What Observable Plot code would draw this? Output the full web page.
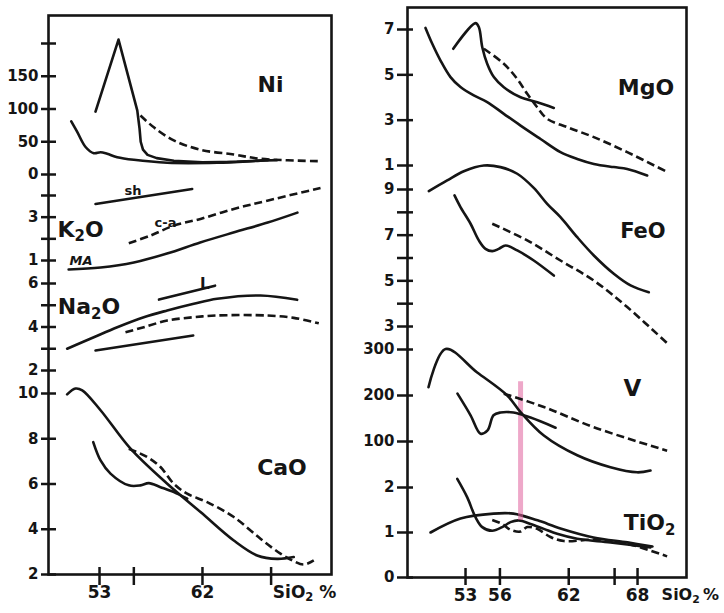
<!DOCTYPE html>
<html><head><meta charset="utf-8">
<script src="https://cdn.jsdelivr.net/npm/d3@7"></script>
<script src="https://cdn.jsdelivr.net/npm/@observablehq/plot@0.6"></script>
<style>
body{margin:0;background:#fff;}
#chart{position:relative;width:724px;height:613px;overflow:hidden;background:#fff;}
#chart svg{position:absolute;top:0;}
</style></head><body><div id="chart"></div>
<script>
// ---------- DATA (SiO2 %, value) ----------
// Left panel
const niTicks = [0, 50, 100, 150, 200];
const niTickLabels = [0, 50, 100, 150];
const niPeak = [[52.65,96],[54.66,206],[56.3,98],[56.5,70],[56.6,50],[56.8,38],[57.2,30],[58,25],[59.5,21],[62,18.5],[65,19.5],[67.7,22]];
const niLow = [[50.53,81],[51.05,65],[51.78,42],[52.5,32.5],[53.09,34],[53.67,31.6],[54.55,26.4],[56,22.4],[58.92,18],[63.29,18],[67.07,21],[68.5,22]];
const niDash = [[56.58,90],[57.75,72],[59.49,52],[61.83,37.7],[64.74,30.5],[67.07,24],[72.32,20.3]];

const k2oTicks = [1, 2, 3, 4];
const k2oTickLabels = [1, 3];
const k2oSh = [[52.65,3.61],[61.1,4.30]];
const k2oCa = [[55.56,1.80],[57.46,2.15],[59.49,2.61],[61.83,2.92],[64.74,3.38],[67.66,3.76],[72.32,4.35]];
const k2oMa = [[50.3,0.585],[53.1,0.68],[56,0.91],[58.9,1.32],[61.8,1.83],[64.7,2.29],[67.7,2.75],[70.3,3.21]];

const na2oTicks = [2, 3, 4, 5, 6];
const na2oTickLabels = [2, 4, 6];
const na2oL = [[58.2,5.26],[63.1,5.9]];
const na2oUp = [[50.17,3.0],[52.5,3.53],[54.55,3.99],[56.87,4.45],[58.92,4.76],[61.24,5.07],[63.28,5.30],[67.07,5.45],[70.28,5.25]];
const na2oDash = [[55.27,3.76],[56.87,3.99],[58.92,4.30],[61.24,4.45],[63.28,4.53],[67.66,4.53],[69.98,4.42],[72.17,4.17]];
const na2oLow = [[52.65,2.92],[61.19,3.61]];

const caoTicks = [2, 4, 6, 8, 10];
const caoTickLabels = [2, 4, 6, 8, 10];
const caoMain = [[50.17,9.96],[50.9,10.22],[51.49,10.14],[53.09,9.26],[55.71,7.56],[58.92,6.01],[61.83,4.76],[64.74,3.50],[66.78,2.84],[68.53,2.69],[69.98,2.77]];
const caoLow = [[52.45,7.85],[53.09,7.04],[53.96,6.46],[55.56,5.94],[56.58,5.94],[57.31,6.04],[58.33,5.86],[59.5,5.64],[60.67,5.35]];
const caoDash = [[55.56,7.56],[57.17,7.19],[58.33,6.75],[59.49,6.01],[60.66,5.57],[62.41,5.20],[64.74,4.54],[67.07,3.58],[68.82,2.92],[69.98,2.59],[70.86,2.44],[71.73,2.62]];

const leftXTicks = [53, 56, 62, 68];
const leftXTickLabels = [53, 62];

// Right panel
const mgoTicks = [1, 3, 5, 7];
const mgoTickLabels = [1, 3, 5, 7];
const mgoMain = [[49.51,7.07],[50.10,6.37],[50.82,5.63],[51.69,4.90],[52.56,4.46],[53.72,4.09],[54.89,3.80],[56.34,3.28],[57.80,2.76],[59.54,2.17],[61.28,1.59],[62.74,1.29],[64.19,1.07],[65.93,0.93],[67.10,0.85],[68.84,0.56]];
const mgoPeak = [[51.93,6.15],[53.87,7.28],[54.16,7.11],[54.46,6.22],[54.89,5.49],[55.47,4.90],[56.34,4.45],[57.80,4.01],[59.25,3.79],[60.70,3.54]];
const mgoDash = [[54.6,6.15],[56.34,5.49],[57.51,4.82],[58.38,4.16],[59.25,3.57],[60.12,3.06],[61.87,2.69],[64.19,2.25],[67.1,1.59],[70.44,0.75]];

const feoTicks = [3, 4, 5, 6, 7, 8, 9];
const feoTickLabels = [3, 5, 7, 9];
const feoUp = [[49.8,8.93],[51.4,9.40],[52.85,9.80],[54.6,10.05],[56.05,9.98],[57.51,9.69],[58.95,9.07],[60.12,8.37],[61.28,7.79],[62.74,6.91],[64.19,6.11],[65.93,5.31],[67.39,4.80],[68.98,4.50]];
const feoLow = [[52.04,8.74],[52.56,8.23],[53.44,7.50],[54.16,6.77],[54.74,6.40],[55.33,6.30],[55.9,6.40],[56.49,6.55],[57.51,6.33],[58.95,5.89],[60.7,5.23]];
const feoDash = [[55.33,7.50],[58.38,6.77],[61.28,5.89],[64.19,5.01],[67.1,3.85],[70.58,2.27]];

const vTicks = [100, 200, 300];
const vTickLabels = [100, 200, 300];
const vMain = [[49.77,218],[51.26,301],[54.02,250],[56.64,200],[57.8,164],[59.83,113],[62.74,70],[65.64,44],[67.97,33],[69.13,37]];
const vDip = [[52.3,204],[53.44,157],[54.31,117],[54.92,124],[55.44,157],[56.05,163],[57.18,163],[58.67,152],[60.85,130]];
const vDash = [[56.34,204],[59.83,175],[64.19,131],[70.58,80]];
const pinkMark = [{si: 57.8, top: 230, bottom: -72}];

const tio2Ticks = [0, 1, 2];
const tio2TickLabels = [0, 1, 2];
const tio2Arc = [[49.95,1.0],[52.56,1.31],[55.44,1.42],[57.18,1.42],[59.28,1.27],[61.28,1.09],[64.16,0.89],[67.12,0.78],[69.3,0.69]];
const tio2Loop = [[52.28,2.19],[53.15,1.78],[53.87,1.34],[54.46,1.12],[55.33,1.04],[56.2,1.12],[56.92,1.23],[57.65,1.27],[58.67,1.19],[59.83,1.08],[60.99,0.97],[62.74,0.86],[65.64,0.78],[69.13,0.67]];
const tio2Dash = [[55.33,1.28],[56.2,1.19],[56.92,1.06],[57.8,1.02],[58.38,1.12],[59.25,1.08],[60.41,0.9],[61.57,0.81],[64.19,0.84],[67.1,0.75],[70.58,0.47]];

const rightXTicks = [53, 56, 62, 66, 68];
const rightXTickLabels = [53, 56, 62, 68];

// Labels (text + anchor in data units)
const niNames = [{text: "Ni", si: 67.95, val: 136}];
const k2oNames = [{text: "K₂O", si: 51.34, val: 2.43}];
const k2oTags = [{text: "sh", si: 55.93, val: 4.2}, {text: "c-a", si: 58.77, val: 2.73}];
const k2oItalicTags = [{text: "MA", si: 51.38, val: 0.98}];
const na2oNames = [{text: "Na₂O", si: 52.08, val: 4.92}];
const na2oTags = [{text: "L", si: 62.2, val: 5.97}];
const caoNames = [{text: "CaO", si: 68.95, val: 6.71}];
const mgoNames = [{text: "MgO", si: 68.74, val: 4.44}];
const feoNames = [{text: "FeO", si: 68.47, val: 7.16}];
const vNames = [{text: "V", si: 67.56, val: 215}];
const tio2Names = [{text: "TiO₂", si: 69.04, val: 1.21}];
const leftAxisTitle = [{text: "SiO₂ %", si: 68.15}];
const rightAxisTitle = [{text: "SiO₂\u2009%", si: 70.1}];

// ---------- LAYOUT ----------
const LEFT = {left: 0, width: 345, mL: 48, mR: 14, mT: 15, mB: 39, xDomain: [48.54, 73.28],
  yTick: {size: 15, dx: 8, pad: 3}, xTick: {size: 18, dy: -7, pad: 0}, titleSize: 17,
  xTicks: leftXTicks, xLabels: leftXTickLabels, title: leftAxisTitle};
const RIGHT = {left: 360, width: 364, mL: 47, mR: 38, mT: 7, mB: 36, xDomain: [47.94, 72.27],
  yTick: {size: 16, dx: 6, pad: 3}, xTick: {size: 17, dy: -9, pad: 3}, titleSize: 16,
  xTicks: rightXTicks, xLabels: rightXTickLabels, title: rightAxisTitle};

const INK = "#151515";
function lines(list) {
  return list.map(s => Plot.line(s.pts, {
    x: d => d[0], y: d => d[1], stroke: INK, strokeWidth: 2.6,
    strokeLinecap: "round", strokeLinejoin: "round",
    curve: s.curve || "catmull-rom",
    ...(s.dashed ? {strokeDasharray: "8,4", strokeLinecap: "butt"} : {})
  }));
}
function names(arr, size, extra = {}) {
  return Plot.text(arr, {x: "si", y: "val", text: "text", fontSize: size, fontWeight: "bold", fill: INK, ...extra});
}

const chart = document.getElementById("chart");
const NS = "http://www.w3.org/2000/svg";
function subscripts(svg) {
  svg.querySelectorAll("text").forEach(t => {
    if (t.children.length || !t.textContent.includes("₂")) return;
    const parts = t.textContent.split("₂");
    t.textContent = "";
    parts.forEach((p, i) => {
      if (i > 0) {
        const s = document.createElementNS(NS, "tspan");
        s.setAttribute("font-size", "68%");
        s.setAttribute("dy", "0.3em");
        s.textContent = "2";
        t.appendChild(s);
      }
      const n = document.createElementNS(NS, "tspan");
      n.textContent = p;
      if (i > 0) n.setAttribute("dy", "-0.204em");
      t.appendChild(n);
    });
  });
}

function addPlot(P, s) {
  const marks = [];
  if (s.bottom) {
    marks.push(Plot.frame({stroke: INK, strokeWidth: 2.6}));
    marks.push(Plot.axisX(P.xTicks, {
      tickSize: P.xTick.size, dy: P.xTick.dy, tickPadding: P.xTick.pad,
      tickFormat: d => P.xLabels.includes(d) ? String(d) : "",
      fontSize: 17, fontWeight: "bold", stroke: INK, fill: INK, strokeWidth: 2.5, label: null
    }));
    marks.push(Plot.text(P.title, {x: "si", text: "text", frameAnchor: "bottom",
      textAnchor: "start", lineAnchor: "top", dy: 11, fontSize: P.titleSize, fontWeight: "bold", fill: INK}));
  }
  marks.push(Plot.axisY(s.ticks, {
    tickSize: P.yTick.size, dx: P.yTick.dx, tickPadding: P.yTick.pad,
    tickFormat: d => s.tickLabels.includes(d) ? String(d) : "",
    fontSize: 15, fontWeight: "bold", stroke: INK, fill: INK, strokeWidth: 2.5, label: null
  }));
  marks.push(...(s.extra || []));
  marks.push(...lines(s.lines));
  marks.push(...(s.labels || []));
  const svg = Plot.plot({
    width: P.width, height: 613,
    marginLeft: P.mL, marginRight: P.mR, marginTop: P.mT, marginBottom: P.mB,
    x: s.bottom ? {domain: P.xDomain} : {domain: P.xDomain, axis: null},
    y: {domain: s.domain, range: s.range},
    style: {background: "transparent", overflow: "visible", fontFamily: "'DejaVu Sans', sans-serif", color: INK},
    marks
  });
  svg.style.left = P.left + "px";
  svg.style.maxWidth = "none";
  subscripts(svg);
  chart.appendChild(svg);
}

// Left panel
addPlot(LEFT, {domain: [2, 10], range: [574, 393], ticks: caoTicks, tickLabels: caoTickLabels, bottom: true,
  lines: [{pts: caoMain}, {pts: caoLow}, {pts: caoDash, dashed: true}],
  labels: [names(caoNames, 22)]});
addPlot(LEFT, {domain: [0, 200], range: [174, 43], ticks: niTicks, tickLabels: niTickLabels,
  lines: [{pts: niPeak, curve: "linear"}, {pts: niLow}, {pts: niDash, dashed: true}],
  labels: [names(niNames, 22)]});
addPlot(LEFT, {domain: [1, 4], range: [260, 195], ticks: k2oTicks, tickLabels: k2oTickLabels,
  lines: [{pts: k2oSh}, {pts: k2oCa, dashed: true}, {pts: k2oMa}],
  labels: [names(k2oNames, 22), names(k2oTags, 13), names(k2oItalicTags, 13, {fontStyle: "italic"})]});
addPlot(LEFT, {domain: [2, 6], range: [370, 283], ticks: na2oTicks, tickLabels: na2oTickLabels,
  lines: [{pts: na2oL}, {pts: na2oUp}, {pts: na2oDash, dashed: true}, {pts: na2oLow}],
  labels: [names(na2oNames, 22), names(na2oTags, 15)]});

// Right panel
addPlot(RIGHT, {domain: [0, 2], range: [577, 487], ticks: tio2Ticks, tickLabels: tio2TickLabels, bottom: true,
  lines: [{pts: tio2Arc}, {pts: tio2Loop}, {pts: tio2Dash, dashed: true}],
  labels: [names(tio2Names, 22)]});
addPlot(RIGHT, {domain: [0, 300], range: [487, 349], ticks: vTicks, tickLabels: vTickLabels,
  extra: [Plot.ruleX(pinkMark, {x: "si", y1: "top", y2: "bottom", stroke: "#e0609c", strokeWidth: 5, strokeOpacity: 0.55})],
  lines: [{pts: vMain}, {pts: vDip}, {pts: vDash, dashed: true}],
  labels: [names(vNames, 23)]});
addPlot(RIGHT, {domain: [3, 9], range: [326, 189], ticks: feoTicks, tickLabels: feoTickLabels,
  lines: [{pts: feoUp}, {pts: feoLow}, {pts: feoDash, dashed: true}],
  labels: [names(feoNames, 21)]});
addPlot(RIGHT, {domain: [1, 7], range: [165, 29], ticks: mgoTicks, tickLabels: mgoTickLabels,
  lines: [{pts: mgoMain}, {pts: mgoPeak}, {pts: mgoDash, dashed: true}],
  labels: [names(mgoNames, 22)]});
</script></body></html>
